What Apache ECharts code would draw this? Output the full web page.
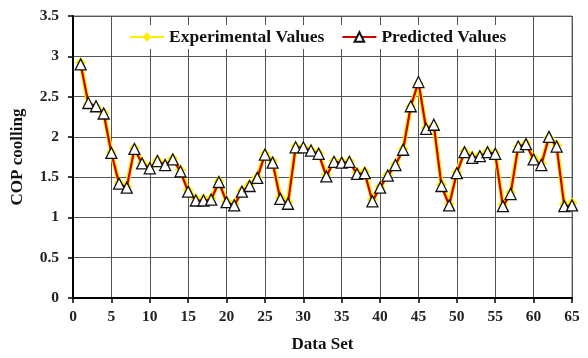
<!DOCTYPE html>
<html><head><meta charset="utf-8">
<script src="https://cdn.jsdelivr.net/npm/echarts@6/dist/echarts.min.js"></script>
<style>html,body{margin:0;padding:0;background:#fff}#c{width:588px;height:358px}</style>
</head><body><div id="c"></div>
<script>
const dataSet = [1,2,3,4,5,6,7,8,9,10,11,12,13,14,15,16,17,18,19,20,21,22,23,24,25,26,27,28,29,30,31,32,33,34,35,36,37,38,39,40,41,42,43,44,45,46,47,48,49,50,51,52,53,54,55,56,57,58,59,60,61,62,63,64,65];
const experimental = [2.92,2.40,2.37,2.30,1.81,1.43,1.38,1.86,1.68,1.62,1.71,1.66,1.73,1.59,1.34,1.23,1.23,1.24,1.45,1.20,1.17,1.33,1.41,1.50,1.79,1.70,1.25,1.19,1.88,1.87,1.84,1.80,1.53,1.70,1.69,1.70,1.56,1.57,1.22,1.38,1.53,1.66,1.85,2.38,2.66,2.11,2.14,1.41,1.17,1.56,1.82,1.76,1.77,1.82,1.80,1.16,1.31,1.88,1.92,1.74,1.67,1.99,1.90,1.16,1.18];
const predicted = [2.90,2.42,2.38,2.29,1.80,1.42,1.37,1.85,1.67,1.61,1.70,1.65,1.72,1.57,1.32,1.21,1.21,1.22,1.44,1.19,1.15,1.32,1.39,1.49,1.78,1.68,1.23,1.17,1.87,1.87,1.83,1.79,1.51,1.69,1.68,1.69,1.54,1.55,1.20,1.37,1.52,1.65,1.84,2.38,2.68,2.10,2.15,1.39,1.15,1.55,1.81,1.74,1.76,1.81,1.79,1.14,1.29,1.88,1.91,1.72,1.65,2.00,1.88,1.14,1.15];
const xTicks = {min:0, max:65, step:5};
const yTicks = {min:0, max:3.5, step:0.5};

const font = 'Liberation Serif';
const chart = echarts.init(document.getElementById('c'));
chart.setOption({
  animation:false,
  backgroundColor:'#fff',
  grid:{left:73, right:16, top:16, bottom:59, show:true, borderColor:'#777', borderWidth:1},
  legend:{
    top:25, left:121, itemGap:17, backgroundColor:'#fff', padding:[3,8],
    itemWidth:34, itemHeight:12,
    textStyle:{fontFamily:font, fontWeight:'bold', fontSize:17.5, color:'#111'},
    data:['Experimental Values','Predicted Values']
  },
  xAxis:{
    type:'value', min:xTicks.min, max:xTicks.max, interval:xTicks.step,
    name:'Data Set', nameLocation:'middle', nameGap:38,
    nameTextStyle:{fontFamily:font, fontWeight:'bold', fontSize:17, color:'#111'},
    axisLine:{lineStyle:{color:'#000', width:2}},
    axisTick:{show:true, length:5, lineStyle:{color:'#000', width:1.5}},
    axisLabel:{fontFamily:font, fontWeight:'bold', fontSize:15.5, color:'#222', margin:11},
    splitLine:{show:true, lineStyle:{color:'#555', width:1}}
  },
  yAxis:{
    type:'value', min:yTicks.min, max:yTicks.max, interval:yTicks.step,
    name:'COP coolling', nameLocation:'middle', nameGap:47,
    nameTextStyle:{fontFamily:font, fontWeight:'bold', fontSize:17, color:'#111'},
    axisLine:{show:true, lineStyle:{color:'#000', width:2}},
    axisTick:{show:true, length:5, lineStyle:{color:'#000', width:1.5}},
    axisLabel:{fontFamily:font, fontWeight:'bold', fontSize:15.5, color:'#222', margin:14},
    splitLine:{show:true, lineStyle:{color:'#555', width:1}}
  },
  series:[
    {
      name:'Experimental Values', type:'line',
      data:dataSet.map((d,i)=>[d, experimental[i]]),
      symbol:'diamond', symbolSize:10, showAllSymbol:true,
      lineStyle:{color:'#ffee00', width:4.5},
      itemStyle:{color:'#ffee00', borderColor:'#ffee00'},
      z:2
    },
    {
      name:'Predicted Values', type:'line',
      data:dataSet.map((d,i)=>[d, predicted[i]]),
      symbol:'triangle', symbolSize:11, showAllSymbol:true,
      lineStyle:{color:'#cc0000', width:2.2},
      itemStyle:{color:'#fff', borderColor:'#111', borderWidth:1.3},
      z:3
    }
  ]
});
</script></body></html>
